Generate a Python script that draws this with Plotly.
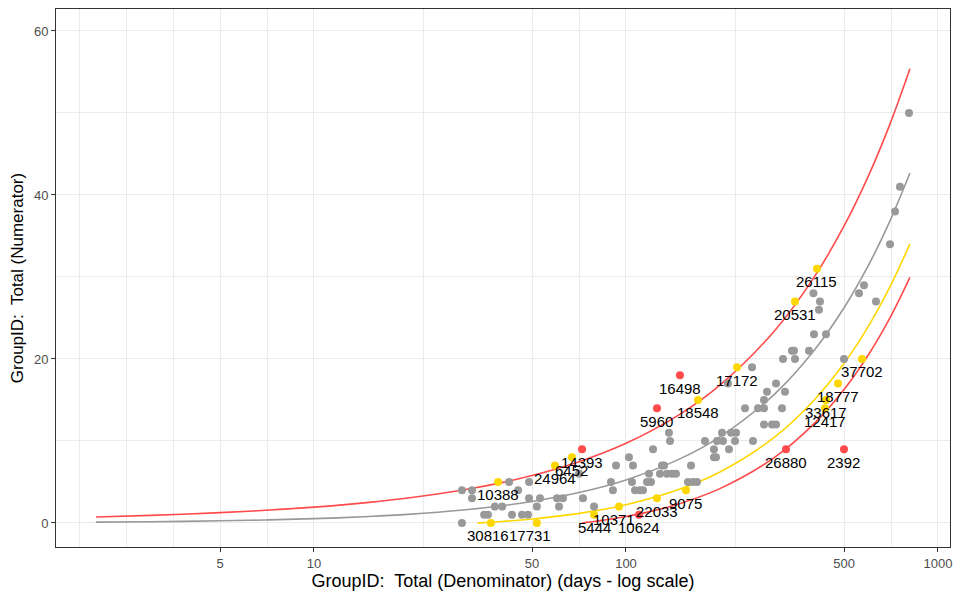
import numpy as np
import plotly.graph_objects as go

# ---------------- data ----------------
# grey points: denominator (days) and numerator
gray_n = [29.8, 35.1, 36.1, 43.1, 46.4, 48.5, 38.0, 40.1, 51.8, 61.0, 79.0,
          32.1, 48.9, 53.0, 60.1, 62.8, 72.8, 29.8, 32.1, 45.1, 42.2, 48.9, 70.7,
          89.5, 90.8, 92.9, 102.2, 105.3, 104.5, 106.9, 110.9, 113.4,
          118.5, 116.8, 120.3, 122.1, 128.5, 130.4, 132.4, 135.3, 140.4, 144.6, 137.3, 138.4,
          161.6, 158.0, 164.0, 168.9,
          179.1, 191.4, 191.4, 194.3, 195.7, 203.1, 204.6, 213.9, 217.1, 225.3, 223.6, 255.3,
          212.3, 253.5,
          240.7, 264.9, 276.9, 316.2, 276.9, 283.1, 323.3, 302.6, 276.9, 293.8, 302.6,
          318.6, 340.4, 345.5, 348.1, 385.9, 400.4, 437.6, 398.7, 418.6, 415.5,
          499.7, 558.2, 579.2, 632.8, 701.9, 728.3, 755.3, 807.4]
gray_v = [0, 1, 1, 1, 1, 1, 2, 2, 2, 2, 2,
          3, 3, 3, 3, 3, 3, 4, 4, 4, 5, 5, 6,
          5, 4, 7, 8, 7, 5, 4, 4, 4,
          6, 5, 5, 9, 6, 7, 7, 6, 6, 6, 11, 10,
          7, 5, 5, 5,
          10, 9, 8, 8, 10, 11, 10, 9, 11, 11, 10, 10,
          17, 19,
          14, 14, 14, 14, 15, 16, 16, 17, 12, 12, 12,
          20, 21, 21, 20, 21, 23, 23, 28, 27, 26,
          20, 28, 29, 27, 34, 38, 41, 50]

# yellow points (between warning and control limits) with their IDs
yellow_n = [36.9, 51.8, 38.9, 59.2, 67.1, 79.0, 95.0, 125.7, 155.7, 170.1,
            226.9, 348.1, 409.4, 478.1, 437.6, 434.4, 570.7]
yellow_v = [0, 0, 5, 7, 8, 1, 2, 3, 4, 15, 19, 27, 31, 17, 15, 14, 20]
yellow_labels = ["30816", "17731", "10388", "24964", "6452", "5444", "10371",
                 "22033", "9075", "18548", "17172", "20531", "26115", "18777",
                 "33617", "12417", "37702"]

# red points (outside control limits) with their IDs
red_n = [72.3, 110.1, 125.7, 148.9, 325.7, 499.7]
red_v = [9, 1, 14, 18, 9, 9]
red_labels = ["14393", "10624", "5960", "16498", "26880", "2392"]

# funnel lines
line_n = [2, 3, 5, 7, 10, 15, 20, 30, 40, 50, 70, 100, 150, 200, 300, 400, 500, 600, 700, 813]
centre_line = [0.105, 0.158, 0.263, 0.368, 0.525, 0.788, 1.05, 1.575, 2.1, 2.625, 3.675,
               5.25, 7.875, 10.5, 15.75, 21.0, 26.25, 31.5, 36.75, 42.68]
upper_limit = [0.735, 0.930, 1.261, 1.548, 1.935, 2.516, 3.044, 4.019, 4.922, 5.779, 7.407,
               9.71, 13.339, 16.808, 23.476, 29.922, 36.224, 42.426, 48.552, 55.398]
warn_n = [33.4, 35, 40, 50, 70, 100, 150, 200, 300, 400, 500, 600, 700, 813]
lower_warning = [0.0, 0.043, 0.182, 0.48, 1.137, 2.217, 4.16, 6.211, 10.496, 14.933,
                 19.468, 24.07, 28.725, 34.03]
ctrl_n = [72.2, 75, 80, 85, 100, 120, 150, 200, 300, 400, 500, 600, 700, 813]
lower_limit = [0.0, 0.075, 0.21, 0.35, 0.79, 1.414, 2.411, 4.192, 8.024, 12.078,
               16.276, 20.574, 24.948, 29.962]

x_ticks = [5, 10, 50, 100, 500, 1000]
x_minor = [1.77, 2.5, 3.54, 7.07, 22.36, 70.71, 223.6, 707.1]
y_ticks = [0, 20, 40, 60]
y_minor = [10, 30, 50]

x_title = "GroupID:\u00a0 Total (Denominator) (days - log scale)"
y_title = "GroupID:\u00a0 Total (Numerator)"

# ---------------- style ----------------
RED = "#FF4B4B"
YELLOW = "#FFD700"
GREY = "#999999"
FONT = "Liberation Sans, Arial, sans-serif"
# small horizontal nudges (pixels) of a few labels, as in the reference
label_xshift = {"30816": -3, "17731": -7, "10371": -5}

fig = go.Figure()

line_style = dict(shape="spline", smoothing=1, width=1.6)
fig.add_trace(go.Scatter(x=line_n, y=upper_limit, mode="lines",
                         line=dict(color=RED, **line_style), hoverinfo="skip"))
fig.add_trace(go.Scatter(x=line_n, y=centre_line, mode="lines",
                         line=dict(color=GREY, **line_style), hoverinfo="skip"))
fig.add_trace(go.Scatter(x=warn_n, y=lower_warning, mode="lines",
                         line=dict(color=YELLOW, **line_style), hoverinfo="skip"))
fig.add_trace(go.Scatter(x=ctrl_n, y=lower_limit, mode="lines",
                         line=dict(color=RED, **line_style), hoverinfo="skip"))

fig.add_trace(go.Scatter(x=gray_n, y=gray_v, mode="markers",
                         marker=dict(color=GREY, size=8, line=dict(width=0))))
fig.add_trace(go.Scatter(x=yellow_n, y=yellow_v, mode="markers",
                         marker=dict(color=YELLOW, size=8, line=dict(width=0))))
fig.add_trace(go.Scatter(x=red_n, y=red_v, mode="markers",
                         marker=dict(color=RED, size=8, line=dict(width=0))))

annotations = []
for n, v, lab in list(zip(yellow_n, yellow_v, yellow_labels)) + list(zip(red_n, red_v, red_labels)):
    annotations.append(dict(x=np.log10(n), y=v, xref="x", yref="y", text=lab,
                            showarrow=False, yshift=-13, xshift=label_xshift.get(lab, 0),
                            xanchor="center", yanchor="middle",
                            font=dict(family=FONT, size=15, color="black")))

fig.update_layout(
    width=960, height=600,
    margin=dict(l=56, r=10, t=9, b=53),
    paper_bgcolor="white", plot_bgcolor="white",
    showlegend=False,
    font=dict(family=FONT, color="black"),
    annotations=annotations,
)

fig.update_xaxes(
    type="log", range=[0.1731, 3.0385],
    tickmode="array", tickvals=x_ticks, ticktext=[str(t) for t in x_ticks],
    tickfont=dict(family=FONT, size=13, color="#4D4D4D"),
    ticks="outside", ticklen=4, tickwidth=1, tickcolor="#333333",
    showgrid=True, gridcolor="#EBEBEB", gridwidth=1.1,
    minor=dict(tickmode="array", tickvals=x_minor, showgrid=True,
               gridcolor="#EBEBEB", gridwidth=0.6, ticks=""),
    showline=True, mirror=True, linecolor="#333333", linewidth=1,
    zeroline=False,
    title=dict(text=x_title, font=dict(family=FONT, size=18, color="black"), standoff=3),
)
fig.update_yaxes(
    range=[-2.93, 62.68],
    tickmode="array", tickvals=y_ticks, ticktext=[str(t) for t in y_ticks],
    tickfont=dict(family=FONT, size=13, color="#4D4D4D"),
    ticks="outside", ticklen=4, tickwidth=1, tickcolor="#333333",
    showgrid=True, gridcolor="#EBEBEB", gridwidth=1.1,
    minor=dict(tickmode="array", tickvals=y_minor, showgrid=True,
               gridcolor="#EBEBEB", gridwidth=0.6, ticks=""),
    showline=True, mirror=True, linecolor="#333333", linewidth=1,
    zeroline=False,
    title=dict(text=y_title, font=dict(family=FONT, size=17, color="black"), standoff=5),
)

fig.write_html("out.html")
